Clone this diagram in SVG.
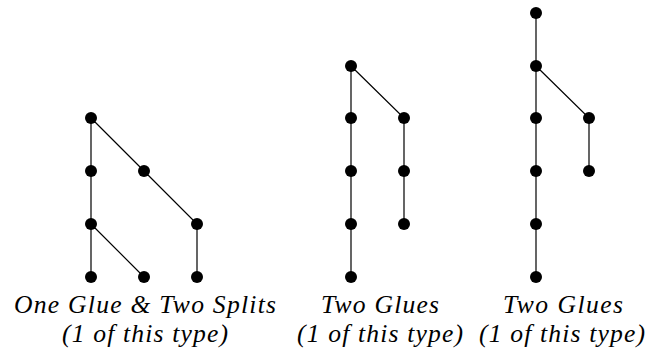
<svg xmlns="http://www.w3.org/2000/svg" width="647" height="353" viewBox="0 0 647 353">
<style>
.e{stroke:#000;stroke-width:1.2;fill:none}
.n{fill:#000}
text{font-family:'Liberation Serif','Times New Roman',serif;font-style:italic;font-size:25.6px;fill:#000;text-anchor:middle}
</style>
<rect width="647" height="353" fill="#fff"/>
<g id="connectors">
<path class="e" d="M91,118V277M91,118L144,171L197,224V277M91,224L144,277"/>
<path class="e" d="M351,66V277M351,66L404,118V224"/>
<path class="e" d="M536,13V277M536,66L589,118V171"/>
</g>
<g id="tree1">
<circle class="n" cx="91" cy="118" r="6"/><circle class="n" cx="91" cy="171" r="6"/><circle class="n" cx="144" cy="171" r="6"/>
<circle class="n" cx="91" cy="224" r="6"/><circle class="n" cx="197" cy="224" r="6"/>
<circle class="n" cx="91" cy="277" r="6"/><circle class="n" cx="144" cy="277" r="6"/><circle class="n" cx="197" cy="277" r="6"/>
</g>
<g id="tree2">
<circle class="n" cx="351" cy="66" r="6"/><circle class="n" cx="351" cy="118" r="6"/><circle class="n" cx="351" cy="171" r="6"/>
<circle class="n" cx="351" cy="224" r="6"/><circle class="n" cx="351" cy="277" r="6"/>
<circle class="n" cx="404" cy="118" r="6"/><circle class="n" cx="404" cy="171" r="6"/><circle class="n" cx="404" cy="224" r="6"/>
</g>
<g id="tree3">
<circle class="n" cx="536" cy="13" r="6"/><circle class="n" cx="536" cy="66" r="6"/><circle class="n" cx="536" cy="118" r="6"/>
<circle class="n" cx="536" cy="171" r="6"/><circle class="n" cx="536" cy="224" r="6"/><circle class="n" cx="536" cy="277" r="6"/>
<circle class="n" cx="589" cy="118" r="6"/><circle class="n" cx="589" cy="171" r="6"/>
</g>
<g id="label1">
<text x="145" y="313" textLength="262" lengthAdjust="spacing">One Glue &amp; Two Splits</text>
<text x="145" y="342" textLength="166" lengthAdjust="spacing">(1 of this type)</text>
</g>
<g id="label2">
<text x="380" y="313" textLength="118" lengthAdjust="spacing">Two Glues</text>
<text x="380" y="342" textLength="166" lengthAdjust="spacing">(1 of this type)</text>
</g>
<g id="label3">
<text x="563" y="313" textLength="120" lengthAdjust="spacing">Two Glues</text>
<text x="562" y="342" textLength="166" lengthAdjust="spacing">(1 of this type)</text>
</g>
</svg>
